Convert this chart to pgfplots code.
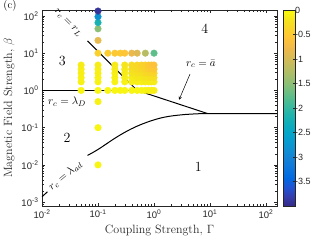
\documentclass[border=0pt]{standalone}
\usepackage{fontspec}
\newfontfamily\ticksf{Liberation Sans}
\usepackage{pgfplots}
\pgfplotsset{compat=1.18}
\pgfplotsset{
  colormap={parula}{
    rgb=(0.2081,0.1663,0.5292) rgb=(0.2081,0.2386,0.6771) rgb=(0.1253,0.3242,0.8303)
    rgb=(0.0060,0.4086,0.8828) rgb=(0.0498,0.4586,0.8641) rgb=(0.0779,0.5040,0.8384)
    rgb=(0.0641,0.5570,0.8240) rgb=(0.0265,0.6137,0.8135) rgb=(0.0228,0.6535,0.7768)
    rgb=(0.0590,0.6838,0.7254) rgb=(0.1453,0.7098,0.6646) rgb=(0.2586,0.7317,0.5954)
    rgb=(0.3953,0.7459,0.5244) rgb=(0.5300,0.7491,0.4661) rgb=(0.6473,0.7456,0.4188)
    rgb=(0.7525,0.7384,0.3768) rgb=(0.8507,0.7299,0.3360) rgb=(0.9450,0.7261,0.2886)
    rgb=(0.9990,0.7653,0.2164) rgb=(0.9789,0.8271,0.1633) rgb=(0.9589,0.8949,0.1132)
    rgb=(0.9763,0.9831,0.0538)
  }
}
\begin{document}
\begin{tikzpicture}
\useasboundingbox (0pt,0pt) rectangle (316pt,242pt);
\begin{axis}[
  at={(42pt,36pt)}, anchor=south west,
  scale only axis, width=235pt, height=196pt,
  xmode=log, ymode=log,
  xmin=0.01, xmax=157, ymin=0.00079, ymax=144,
  clip=false,
  axis line style={black!85, line width=0.5pt},
  every tick/.style={black!85, line width=0.4pt},
  tick align=inside,
  major tick length=3pt, minor tick length=1.6pt,
  xtick={0.01,0.1,1,10,100},
  xticklabels={10\textsuperscript{-2},10\textsuperscript{-1},10\textsuperscript{0},10\textsuperscript{1},10\textsuperscript{2}},
  ytick={0.001,0.01,0.1,1,10,100},
  yticklabels={10\textsuperscript{-3},10\textsuperscript{-2},10\textsuperscript{-1},10\textsuperscript{0},10\textsuperscript{1},10\textsuperscript{2}},
  minor xtick={0.02,0.03,0.04,0.05,0.06,0.07,0.08,0.09,0.2,0.3,0.4,0.5,0.6,0.7,0.8,0.9,2,3,4,5,6,7,8,9,20,30,40,50,60,70,80,90},
  minor ytick={0.0008,0.0009,0.002,0.003,0.004,0.005,0.006,0.007,0.008,0.009,0.02,0.03,0.04,0.05,0.06,0.07,0.08,0.09,0.2,0.3,0.4,0.5,0.6,0.7,0.8,0.9,2,3,4,5,6,7,8,9,20,30,40,50,60,70,80,90},
  ticklabel style={font=\ticksf\fontsize{9.5}{11}\selectfont, text=black!85},
  xlabel={Coupling Strength, $\Gamma$},
  ylabel={Magnetic Field Strength, $\beta$},
  label style={font=\fontsize{12}{14}\selectfont, text=black!85},
  colormap name=parula,
  point meta min=-4, point meta max=0,
  colorbar,
  colorbar style={
    at={(parent axis.north east)}, anchor=north west, xshift=-2.5pt,
    width=12pt,
    ytick={-3.5,-3,-2.5,-2,-1.5,-1,-0.5,0},
    yticklabels={-3.5,-3,-2.5,-2,-1.5,-1,-0.5,0},
    yticklabel style={font=\ticksf\fontsize{9}{10}\selectfont, text=black!85, anchor=west, inner sep=0.5pt, xshift=-0.5pt},
    axis line style={black!85, line width=0.4pt},
    tick align=inside, major tick length=2pt,
    ytick pos=right,
  },
]
\addplot[scatter, only marks, mark=*, mark size=3.3pt, point meta=explicit,
  scatter/use mapped color={draw=mapped color, fill=mapped color}]
  table[x=G, y=B, meta=c] {
G B c
0.1 0.01 -0.05
0.1 0.1 -0.05
0.1 0.5 -0.08
0.05 1 -0.05
0.1 1 -0.05
0.15 1 -0.05
0.2 1 -0.05
0.25 1 -0.05
0.3 1 -0.05
0.4 1 -0.05
0.5 1 -0.05
0.6 1 -0.05
0.7 1 -0.06
0.8 1 -0.08
0.9 1 -0.08
1.0 1 -0.1
0.05 1.7 -0.08
0.05 2.2 -0.08
0.05 2.9 -0.1
0.05 3.7 -0.1
0.05 4.8 -0.12
0.1 1.7 -0.08
0.1 2.2 -0.08
0.1 2.9 -0.1
0.1 3.7 -0.1
0.1 4.8 -0.12
0.2 1.7 -0.08
0.2 2.2 -0.08
0.2 2.9 -0.1
0.2 3.7 -0.12
0.2 4.8 -0.14
0.3 1.7 -0.08
0.3 2.2 -0.1
0.3 2.9 -0.12
0.3 3.7 -0.14
0.3 4.8 -0.18
0.4 1.7 -0.1
0.4 2.2 -0.12
0.4 2.9 -0.2
0.4 3.7 -0.25
0.4 4.8 -0.3
0.5 1.7 -0.1
0.5 2.2 -0.16
0.5 2.9 -0.24
0.5 3.7 -0.3
0.5 4.8 -0.34
0.6 1.7 -0.1
0.6 2.2 -0.16
0.6 2.9 -0.25
0.6 3.7 -0.33
0.6 4.8 -0.38
0.7 1.7 -0.12
0.7 2.2 -0.2
0.7 2.9 -0.3
0.7 3.7 -0.38
0.7 4.8 -0.42
0.8 1.7 -0.12
0.8 2.2 -0.2
0.8 2.9 -0.33
0.8 3.7 -0.45
0.8 4.8 -0.5
0.9 1.7 -0.12
0.9 2.2 -0.24
0.9 2.9 -0.36
0.9 3.7 -0.5
0.9 4.8 -0.55
1.0 1.7 -0.12
1.0 2.2 -0.24
1.0 2.9 -0.36
1.0 3.7 -0.5
1.0 4.8 -0.6
0.1 10 -0.4
0.15 10 -0.45
0.2 10 -0.5
0.25 10 -0.5
0.3 10 -0.55
0.4 10 -0.8
0.5 10 -0.9
0.7 10 -1.2
1.0 10 -1.75
0.1 22 -0.85
0.1 45 -1.5
0.1 66 -2.2
0.1 95 -2.8
0.1 135 -3.9
};
% r_c = lambda_D
\addplot[black, line width=1pt] coordinates {(0.01,1) (0.5,1)};
% r_c = r_L
\addplot[black, line width=1pt] coordinates {(0.065,21.3) (0.5,1)};
% r_c = a-bar
\addplot[black, line width=1pt] coordinates {(0.5,1) (9,0.24) (157,0.24)};
% r_c = lambda_ad
\addplot[black, line width=1pt] coordinates {(0.01,0.0014) (0.0125,0.0019)};
\addplot[black, line width=1pt, smooth] coordinates {
(0.065,0.018) (0.1,0.026) (0.2,0.052) (0.32,0.079) (0.5,0.11) (0.8,0.145)
(1.28,0.18) (2,0.205) (3.5,0.225) (6,0.236) (9,0.24)};
% labels
\node[font=\fontsize{14}{16}\selectfont] at (axis cs:0.023,6.2) {3};
\node[font=\fontsize{14}{16}\selectfont] at (axis cs:8.1,44) {4};
\node[font=\fontsize{14}{16}\selectfont] at (axis cs:0.028,0.052) {2};
\node[font=\fontsize{14}{16}\selectfont] at (axis cs:6.2,0.0091) {1};
\node[font=\fontsize{11}{13}\selectfont] at (axis cs:0.028,0.49) {$r_c=\lambda_D$};
\node[font=\fontsize{11}{13}\selectfont] at (axis cs:6.9,5.1) {$r_c=\bar{a}$};
\node[font=\fontsize{11}{13}\selectfont, rotate=-45] at (axis cs:0.029,64) {$r_c=r_L$};
\node[font=\fontsize{11}{13}\selectfont, rotate=40] at (axis cs:0.026,0.0051) {$r_c=\lambda_{ad}$};
\draw[->, >=stealth, line width=0.5pt] (axis cs:4.4,2.77) -- (axis cs:2.8,0.56);
\end{axis}
\node[font=\fontsize{11}{13}\selectfont] at (10pt,236pt) {(c)};
\end{tikzpicture}
\end{document}
